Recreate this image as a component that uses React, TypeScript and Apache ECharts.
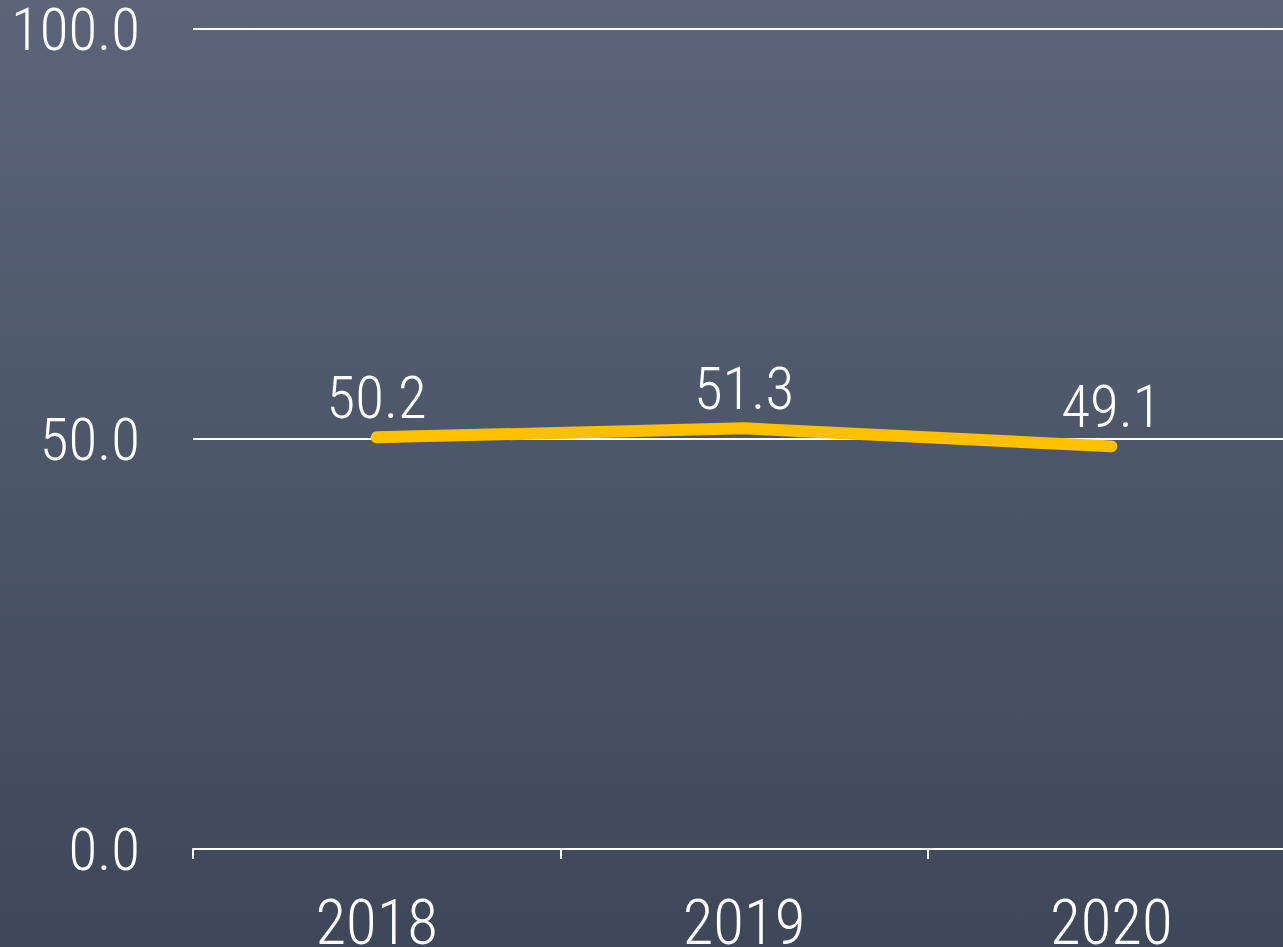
import React, { useEffect, useRef } from "react";
import * as echarts from "echarts";

const years = ["2018", "2019", "2020"];
const values = [50.2, 51.3, 49.1];
const yTicks = [0, 50, 100];

const FONT = "'Roboto Condensed', 'Liberation Sans', sans-serif";

export default function App() {
  const ref = useRef<HTMLDivElement>(null);
  useEffect(() => {
    if (!ref.current) return;
    const chart = echarts.init(ref.current, null, { renderer: "svg" });
    chart.setOption({
      animation: false,
      backgroundColor: new echarts.graphic.LinearGradient(0, 0, 0, 1, [
        { offset: 0, color: "#5b6479" },
        { offset: 1, color: "#3c4657" },
      ]),
      grid: {
        left: 193,
        right: 15,
        top: 29,
        bottom: 151,
        containLabel: false,
        outerBoundsMode: "none",
      },
      xAxis: {
        type: "category",
        data: years,
        boundaryGap: true,
        axisLine: { lineStyle: { color: "#ffffff", width: 2 } },
        axisTick: { show: true, length: 10, lineStyle: { color: "#ffffff", width: 2 } },
        axisLabel: {
          color: "#ffffff",
          fontFamily: FONT,
          fontWeight: 300,
          fontSize: 63,
          margin: 42,
        },
      },
      yAxis: {
        type: "value",
        min: yTicks[0],
        max: yTicks[yTicks.length - 1],
        interval: 50,
        axisLine: { show: false },
        axisTick: { show: false },
        splitLine: { lineStyle: { color: "#ffffff", width: 2 } },
        axisLabel: {
          color: "#ffffff",
          fontFamily: FONT,
          fontWeight: 300,
          fontSize: 59,
          margin: 53,
          padding: [10, 0, 0, 0],
          formatter: (v: number) => v.toFixed(1),
        },
      },
      series: [
        {
          type: "line",
          data: values,
          symbol: "circle",
          symbolSize: 10,
          showSymbol: true,
          lineStyle: { color: "#ffc000", width: 12, cap: "round", join: "round" },
          itemStyle: { color: "#ffc000", borderWidth: 0 },
          label: {
            show: true,
            position: "top",
            distance: 5,
            color: "#ffffff",
            fontFamily: FONT,
            fontWeight: 300,
            fontSize: 59,
            formatter: (p: any) => Number(p.value).toFixed(1),
          },
        },
      ],
    });
    return () => chart.dispose();
  }, []);
  return (
    <div style={{ position: "fixed", left: 0, top: 0, width: 1283, height: 947, overflow: "hidden" }}>
      <div ref={ref} style={{ width: 1310, height: 1000 }} />
    </div>
  );
}
